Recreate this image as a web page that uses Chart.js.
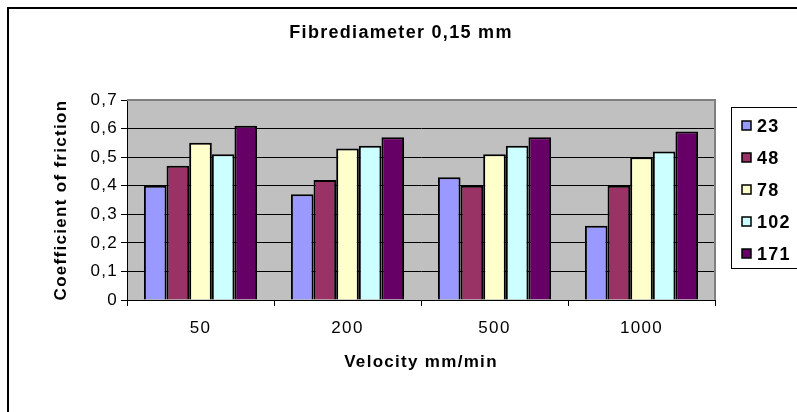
<!DOCTYPE html>
<html>
<head>
<meta charset="utf-8">
<script src="https://cdn.jsdelivr.net/npm/chart.js@4.4.1/dist/chart.umd.min.js"></script>
<style>
  html, body { margin: 0; padding: 0; background: #fff; }
  #wrap { width: 797px; height: 412px; position: relative; }
</style>
</head>
<body>
<div id="wrap"><canvas id="frictionChart" width="797" height="412"></canvas></div>
<script>
// velocities (mm/min) on the x axis
var velocities = ["50", "200", "500", "1000"];
// series names (legend)
var seriesNames = ["23", "48", "78", "102", "171"];
// coefficient of friction per series, one value per velocity
var values23 = [0.40, 0.37, 0.43, 0.26];
var values48 = [0.47, 0.42, 0.40, 0.40];
var values78 = [0.55, 0.53, 0.51, 0.50];
var values102 = [0.51, 0.54, 0.54, 0.52];
var values171 = [0.61, 0.57, 0.57, 0.59];

var chartTitle = "Fibrediameter 0,15 mm";
var seriesColors = ["#9999FF", "#993366", "#FFFFCC", "#CCFFFF", "#660066"];
var fontFamily = "'Liberation Sans', Arial, sans-serif";

// grey plot area + frame, outer chart border, title and the boxed legend
var excelLook = {
    id: "excelLook",
    beforeDraw: function (chart) {
        var ctx = chart.ctx, a = chart.chartArea;
        // the old Excel text is a little spread out
        ctx.letterSpacing = "1.3px";
        ctx.save();
        ctx.fillStyle = "#C0C0C0";
        ctx.fillRect(a.left, a.top, a.right - a.left, a.bottom - a.top);
        ctx.restore();
    },
    afterDatasetsDraw: function (chart) {
        var ctx = chart.ctx, a = chart.chartArea;
        ctx.save();
        ctx.strokeStyle = "#808080";
        ctx.lineWidth = 2;
        ctx.beginPath();
        ctx.moveTo(a.left, a.top);
        ctx.lineTo(a.right, a.top);
        ctx.lineTo(a.right, a.bottom);
        ctx.stroke();
        ctx.restore();
    },
    afterDraw: function (chart) {
        var ctx = chart.ctx;
        ctx.save();
        // outer chart frame (only top and left are inside the picture)
        ctx.strokeStyle = "#000";
        ctx.lineWidth = 2;
        ctx.beginPath();
        ctx.moveTo(8, 420);
        ctx.lineTo(8, 8);
        ctx.lineTo(800, 8);
        ctx.stroke();

        // title
        ctx.fillStyle = "#000";
        ctx.font = "bold 18px " + fontFamily;
        ctx.textAlign = "center";
        ctx.textBaseline = "middle";
        ctx.fillText(chartTitle, 401, 33);

        // legend box
        ctx.textAlign = "left";
        ctx.fillStyle = "#fff";
        ctx.fillRect(731, 107, 80, 161);
        ctx.strokeStyle = "#000";
        ctx.lineWidth = 1;
        ctx.strokeRect(731.5, 107.5, 80, 161);
        ctx.font = "bold 18px " + fontFamily;
        chart.data.datasets.forEach(function (ds, i) {
            var y = 126 + i * 32;
            ctx.fillStyle = ds.backgroundColor;
            ctx.fillRect(742, y - 5, 9, 9);
            ctx.strokeStyle = "#000";
            ctx.lineWidth = 1.5;
            ctx.strokeRect(742, y - 5, 9, 9);
            ctx.fillStyle = "#000";
            ctx.fillText(ds.label, 757, y + 1);
        });
        ctx.restore();
    }
};

var allValues = [values23, values48, values78, values102, values171];

new Chart(document.getElementById("frictionChart"), {
    type: "bar",
    data: {
        labels: velocities,
        datasets: seriesNames.map(function (name, i) {
            return {
                label: name,
                data: allValues[i],
                backgroundColor: seriesColors[i],
                borderColor: "#000",
                borderWidth: 2,
                barPercentage: 1,
                categoryPercentage: 0.77
            };
        })
    },
    options: {
        responsive: false,
        animation: false,
        layout: { padding: { left: 8, right: 82, top: 100, bottom: 0 } },
        plugins: {
            legend: { display: false },
            tooltip: { enabled: false },
            title: { display: false }
        },
        scales: {
            x: {
                afterFit: function (scale) { scale.height = 112; },
                grid: { drawOnChartArea: false, drawTicks: true, tickLength: 6, color: "#000" },
                border: { color: "#000", width: 1 },
                ticks: { color: "#000", padding: 12, font: { family: fontFamily, size: 17 } },
                title: {
                    display: true,
                    text: "Velocity mm/min",
                    color: "#000",
                    font: { family: fontFamily, size: 17, weight: "bold", lineHeight: 1.2 },
                    padding: { top: 0, bottom: 39 }
                }
            },
            y: {
                min: 0,
                max: 0.7,
                afterFit: function (scale) { scale.width = 119; },
                grid: { color: "#000", tickLength: 6, drawTicks: true },
                border: { color: "#000", width: 1 },
                ticks: {
                    stepSize: 0.1,
                    color: "#000",
                    padding: 3,
                    font: { family: fontFamily, size: 17 },
                    callback: function (v) { return (Math.round(v * 10) / 10).toString().replace(".", ","); }
                },
                title: {
                    display: true,
                    text: "Coefficient of friction",
                    color: "#000",
                    font: { family: fontFamily, size: 17, weight: "bold", lineHeight: 1.2 },
                    padding: { top: 43, bottom: 0 }
                }
            }
        }
    },
    plugins: [excelLook]
});
</script>
</body>
</html>
